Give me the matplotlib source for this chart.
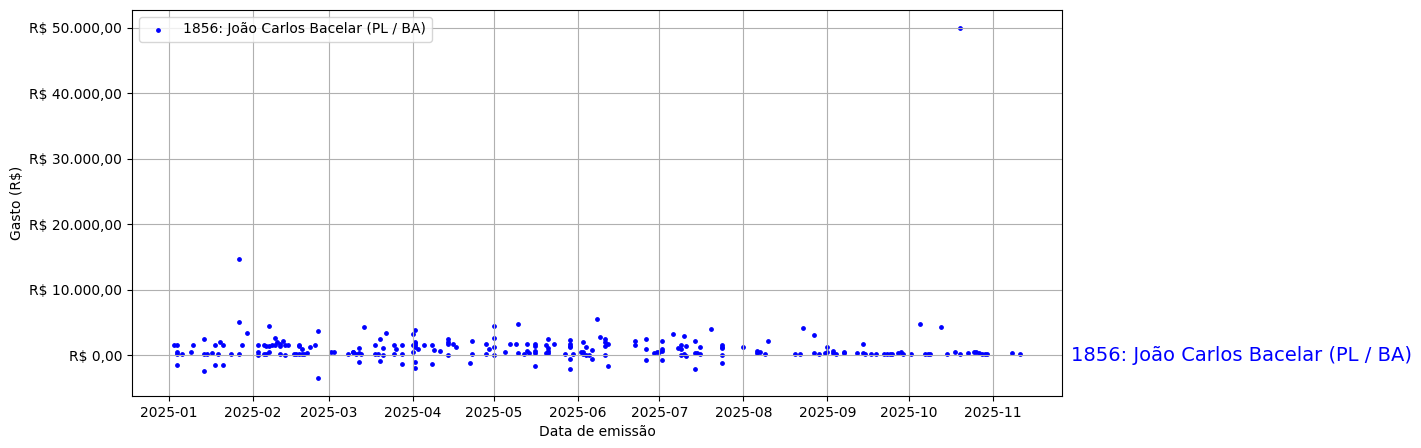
import pandas as pd
import matplotlib
matplotlib.use("Agg")
import matplotlib.pyplot as plt
import matplotlib.dates as mdates
from matplotlib.ticker import FuncFormatter

nome = "1856: João Carlos Bacelar (PL / BA)"

datas = (
    ["2025-01-03", "2025-01-04", "2025-01-04", "2025-01-04", "2025-01-04", "2025-01-06", "2025-01-09",
     "2025-01-10", "2025-01-14", "2025-01-14", "2025-01-14", "2025-01-15", "2025-01-17", "2025-01-18",
     "2025-01-18", "2025-01-19", "2025-01-20", "2025-01-21", "2025-01-21", "2025-01-24", "2025-01-27",
     "2025-01-27", "2025-01-27", "2025-01-28", "2025-01-30"]
    + ["2025-02-03", "2025-02-03", "2025-02-03", "2025-02-05", "2025-02-05", "2025-02-06", "2025-02-06",
       "2025-02-07", "2025-02-07", "2025-02-07", "2025-02-08", "2025-02-09", "2025-02-09", "2025-02-10",
       "2025-02-11", "2025-02-11", "2025-02-11", "2025-02-12", "2025-02-13", "2025-02-13", "2025-02-14",
       "2025-02-16", "2025-02-17", "2025-02-18", "2025-02-18", "2025-02-18", "2025-02-19", "2025-02-19",
       "2025-02-20", "2025-02-21", "2025-02-22", "2025-02-24", "2025-02-25", "2025-02-25"]
    + ["2025-03-02", "2025-03-03", "2025-03-08", "2025-03-10", "2025-03-10", "2025-03-11", "2025-03-12",
       "2025-03-12", "2025-03-12", "2025-03-13", "2025-03-14", "2025-03-18", "2025-03-18", "2025-03-19",
       "2025-03-20", "2025-03-20", "2025-03-21", "2025-03-21", "2025-03-22", "2025-03-25", "2025-03-25",
       "2025-03-26", "2025-03-28", "2025-03-28", "2025-03-28"]
    + ["2025-04-01", "2025-04-01", "2025-04-01", "2025-04-02", "2025-04-02", "2025-04-02", "2025-04-02",
       "2025-04-02", "2025-04-02", "2025-04-02", "2025-04-03", "2025-04-05", "2025-04-08", "2025-04-08",
       "2025-04-09", "2025-04-11", "2025-04-14", "2025-04-14", "2025-04-14", "2025-04-14", "2025-04-16",
       "2025-04-17", "2025-04-22", "2025-04-23", "2025-04-23", "2025-04-28", "2025-04-28", "2025-04-29"]
    + ["2025-05-01", "2025-05-01", "2025-05-01", "2025-05-01", "2025-05-05", "2025-05-07", "2025-05-09",
       "2025-05-10", "2025-05-10", "2025-05-12", "2025-05-13", "2025-05-13", "2025-05-14", "2025-05-16",
       "2025-05-16", "2025-05-16", "2025-05-16", "2025-05-16", "2025-05-20", "2025-05-20", "2025-05-21",
       "2025-05-21", "2025-05-21", "2025-05-21", "2025-05-23", "2025-05-27", "2025-05-29", "2025-05-29",
       "2025-05-29", "2025-05-29", "2025-05-29", "2025-05-29", "2025-05-30"]
    + ["2025-06-02", "2025-06-03", "2025-06-03", "2025-06-03", "2025-06-04", "2025-06-04", "2025-06-05",
       "2025-06-06", "2025-06-06", "2025-06-08", "2025-06-09", "2025-06-11", "2025-06-11", "2025-06-11",
       "2025-06-11", "2025-06-12", "2025-06-12", "2025-06-22", "2025-06-22", "2025-06-26", "2025-06-26",
       "2025-06-26", "2025-06-29", "2025-06-30"]
    + ["2025-07-01", "2025-07-02", "2025-07-02", "2025-07-02", "2025-07-02", "2025-07-06", "2025-07-08",
       "2025-07-09", "2025-07-09", "2025-07-09", "2025-07-10", "2025-07-10", "2025-07-11", "2025-07-11",
       "2025-07-14", "2025-07-14", "2025-07-14", "2025-07-15", "2025-07-16", "2025-07-16", "2025-07-20",
       "2025-07-24", "2025-07-24", "2025-07-24", "2025-07-24", "2025-07-24"]
    + ["2025-08-01", "2025-08-06", "2025-08-06", "2025-08-07", "2025-08-09", "2025-08-10", "2025-08-20",
       "2025-08-22", "2025-08-23", "2025-08-27", "2025-08-27", "2025-08-29", "2025-08-31"]
    + ["2025-09-01", "2025-09-01", "2025-09-03", "2025-09-03", "2025-09-04", "2025-09-07", "2025-09-07",
       "2025-09-12", "2025-09-14", "2025-09-14", "2025-09-15", "2025-09-17", "2025-09-19", "2025-09-22",
       "2025-09-23", "2025-09-24", "2025-09-25", "2025-09-27", "2025-09-28", "2025-09-29"]
    + ["2025-10-02", "2025-10-05", "2025-10-07", "2025-10-08", "2025-10-09", "2025-10-13", "2025-10-15",
       "2025-10-18", "2025-10-20", "2025-10-20", "2025-10-23", "2025-10-25", "2025-10-26", "2025-10-27",
       "2025-10-28", "2025-10-29", "2025-10-30"]
    + ["2025-11-08", "2025-11-11"]
)

gastos = (
    [1530, 1530, 510, 150, -1530, 100, 510,
     1530, 2400, 100, -2500, 100, 250, 1530,
     -1530, 100, 1940, 1530, -1530, 100, 100,
     5000, 14700, 1530, 3310]
    + [1530, 410, 0, 1530, 100, 1430, 100,
       4380, 1430, 510, 1530, 1530, 2550, 1940,
       1430, 1730, 100, 2090, 1530, 0, 1530,
       100, 100, 100, 1530, 1430, 100, 870,
       100, 250, 1170, 1530, 3620, -3570]
    + [410, 410, 100, 410, 510, 100, 1020,
       250, -1120, 100, 4280, 1480, 100, 100,
       2400, -970, 1020, 0, 3310, 1480, 100,
       870, 1480, 100, -1430]
    + [3160, 410, 1480, 3770, 1780, 1940, 1480,
       -1120, -2040, 1180, 870, 1480, 1480, -1430,
       710, 560, 2400, 1940, 1630, 0, 1630,
       1170, -1270, 2090, 100, 100, 1630, 870]
    + [4380, 1170, 2550, 0, 410, 1630, 1630,
       4690, 250, 100, 1630, 560, 250, 1630,
       1330, 560, 250, -1730, 250, 1480, 1020,
       2400, 560, 250, 1630, 100, 2240, 1630,
       1330, 1170, -660, -2190, 100]
    + [410, 410, 1940, 100, 0, 1170, 0,
       710, -660, 5450, 2700, 2400, 1940, 1330,
       0, 1630, -1730, 2090, 1480, 2400, 870,
       -820, 250, 410]
    + [410, 2090, 870, 560, -820, 3160, 1020,
       1480, 870, 0, 2840, 100, 1330, -200,
       2090, 250, -2190, 250, 1170, 100, 3920,
       1480, 1170, 1020, 0, -1270]
    + [1170, 560, 250, 410, 100, 2090, 100,
       100, 4080, 3010, 250, 100, 250]
    + [1170, 410, 560, 250, 100, 410, 250,
       250, 250, 1630, 100, 100, 100, 100,
       100, 100, 100, 250, 410, 100]
    + [100, 4690, 100, 100, 100, 4230, 100,
       410, 100, 50000, 250, 410, 410, 250,
       100, 100, 100]
    + [250, 100]
)

df = pd.DataFrame({"data": pd.to_datetime(datas), "gasto": gastos})


def reais(v, pos):
    s = f"{v:,.2f}".replace(",", "X").replace(".", ",").replace("X", ".")
    return "R$ " + s


fig = plt.figure(figsize=(14.21, 4.48), dpi=100)
ax = fig.add_axes([0.0929, 0.116, 0.6545, 0.8617])

ax.scatter(df["data"], df["gasto"], s=6, color="blue", label=nome)

ax.yaxis.set_major_formatter(FuncFormatter(reais))
ax.xaxis.set_major_locator(mdates.MonthLocator())
ax.xaxis.set_major_formatter(mdates.DateFormatter("%Y-%m"))

ax.set_xlabel("Data de emissão")
ax.set_ylabel("Gasto (R$)")
ax.grid(True)
ax.legend(loc="upper left")

ax.text(1.0097, 0, nome, color="blue", fontsize=14, va="center",
        transform=ax.get_yaxis_transform())

plt.savefig("out.png")
